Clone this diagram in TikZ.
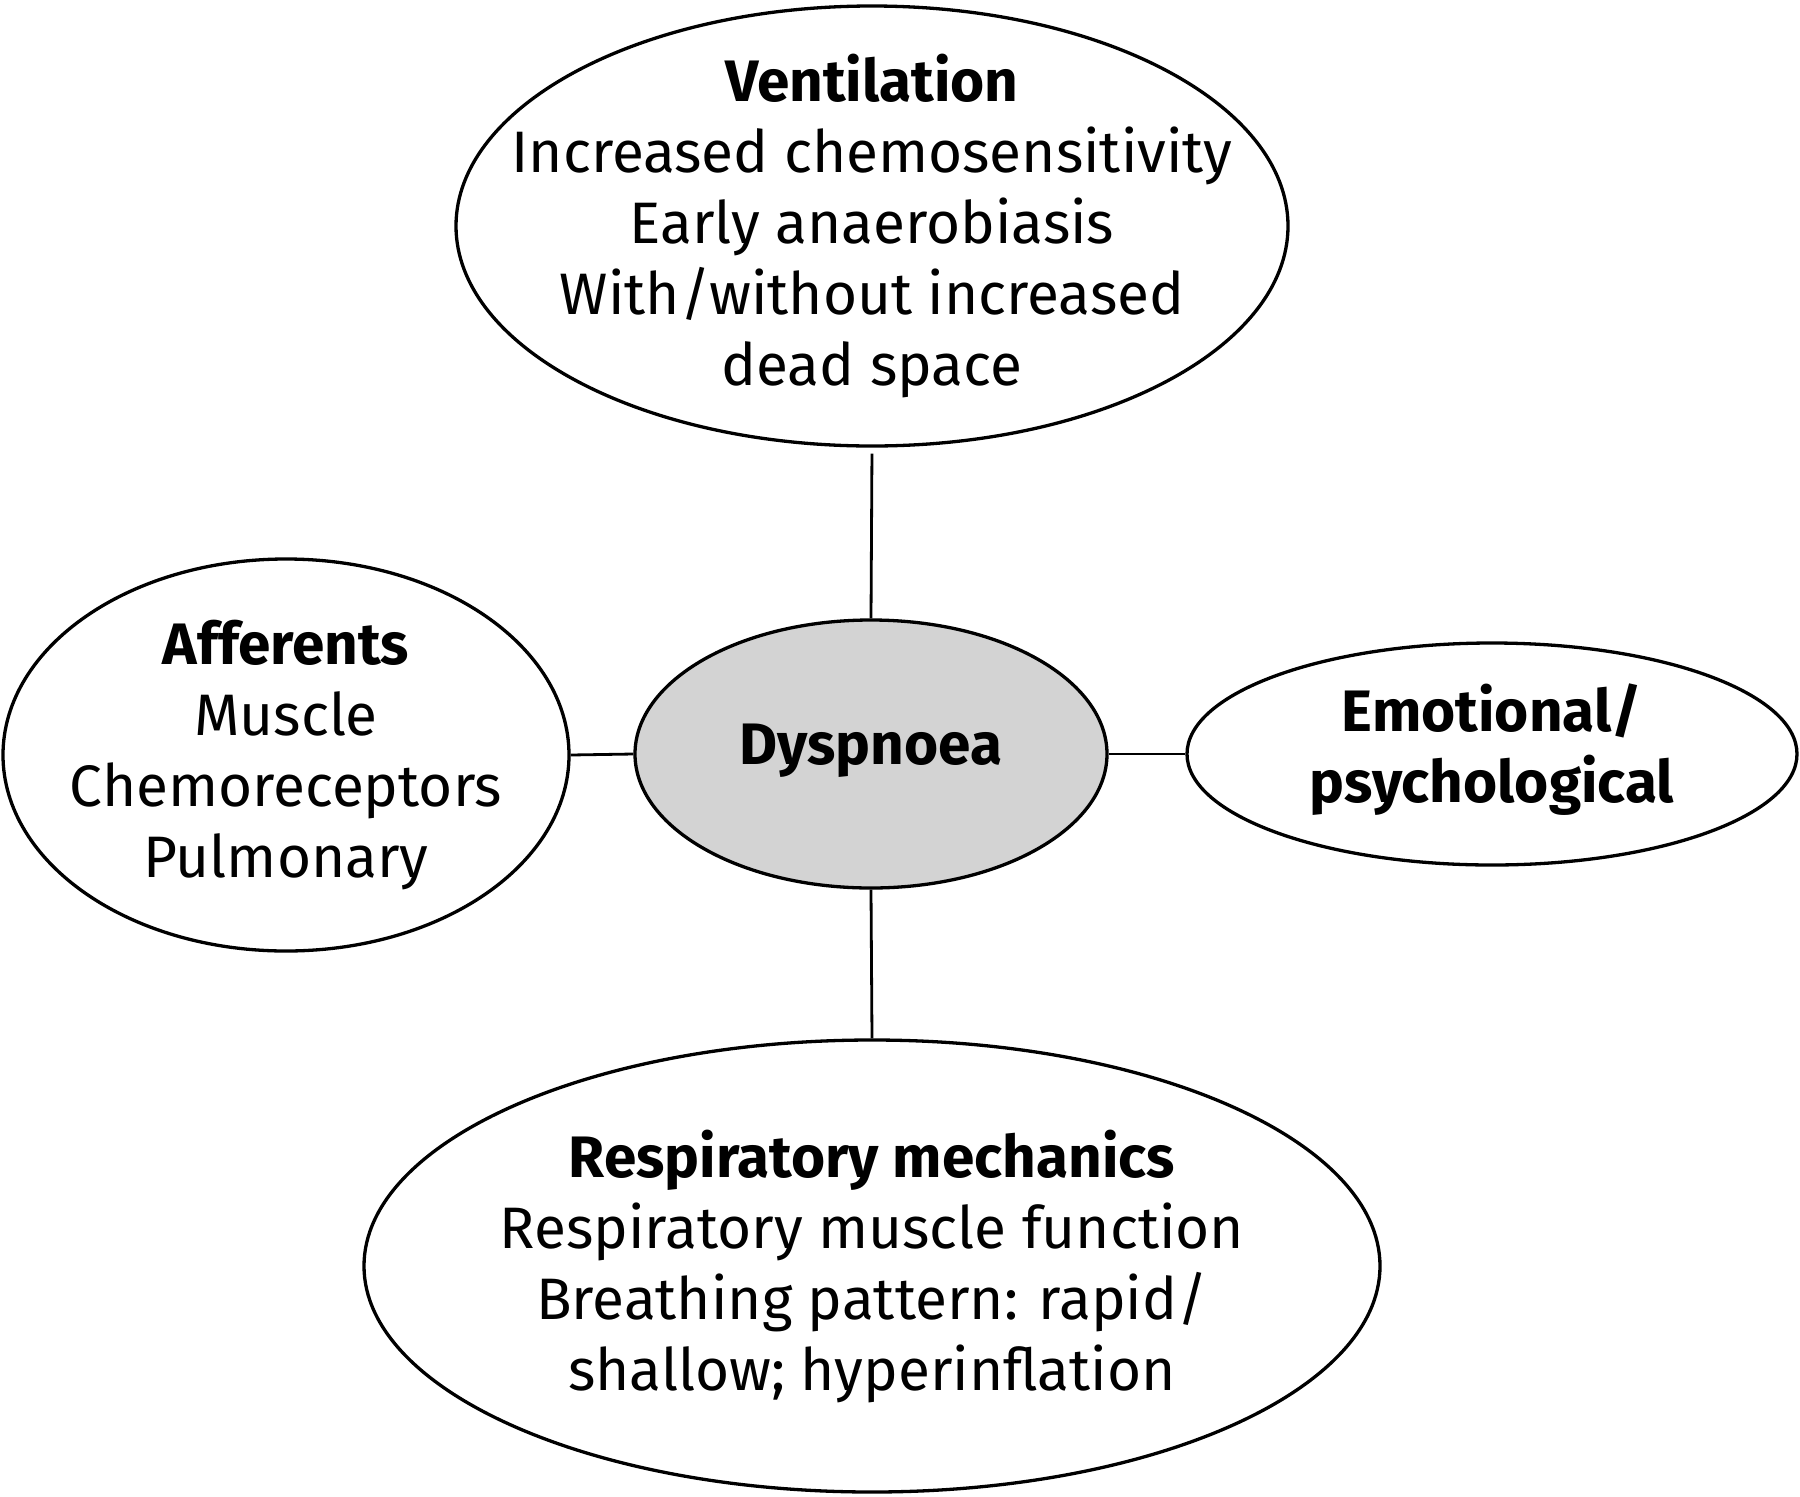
\documentclass[tikz,border=0pt]{standalone}
\usepackage{fontspec}
\setmainfont{Fira Sans}
\usetikzlibrary{shapes.geometric}
\definecolor{dysgrey}{RGB}{211,211,211}
\begin{document}
\begin{tikzpicture}[x=1pt,y=-1pt,
  bubble/.style={draw=black, line width=3.3pt, ellipse, inner sep=0pt},
  lbl/.style={inner sep=0pt, align=center, font=\fontsize{58.5}{71}\selectfont},
  link/.style={draw=black, line width=2.8pt}]
\useasboundingbox (0,0) rectangle (1800,1497);
\node[bubble, minimum width=832pt, minimum height=440pt] (vent) at (872,226) {};
\node[lbl] (ventt) at (vent.center)
  {\textbf{Ventilation}\\Increased chemosensitivity\\Early anaerobiasis\\With/without increased\\dead space};
\node[bubble, minimum width=566pt, minimum height=392pt] (aff) at (286,755) {};
\node[lbl] (afft) at (aff.center)
  {\textbf{Afferents}\\Muscle\\Chemoreceptors\\Pulmonary};
\node[bubble, fill=dysgrey, minimum width=472pt, minimum height=268pt] (dys) at (871,754) {};
\node[lbl] (dyst) at ([yshift=3pt]dys.center) {\textbf{Dyspnoea}};
\node[bubble, minimum width=610pt, minimum height=222pt] (emo) at (1492,754) {};
\node[lbl] (emot) at ([yshift=4pt]emo.center)
  {\textbf{Emotional/}\\\textbf{psychological}};
\node[bubble, minimum width=1016pt, minimum height=452pt] (resp) at (872,1266) {};
\node[lbl] (respt) at (resp.center)
  {\textbf{Respiratory mechanics}\\Respiratory muscle function\\Breathing pattern: rapid/\\shallow; hyperinflation};
\draw[link, shorten <=6pt] (vent.south) -- (dys.north);
\draw[link] (dys.south) -- (resp.north);
\draw[link] (aff.east) -- (dys.west);
\draw[link] (dys.east) -- (emo.west);
\end{tikzpicture}
\end{document}
